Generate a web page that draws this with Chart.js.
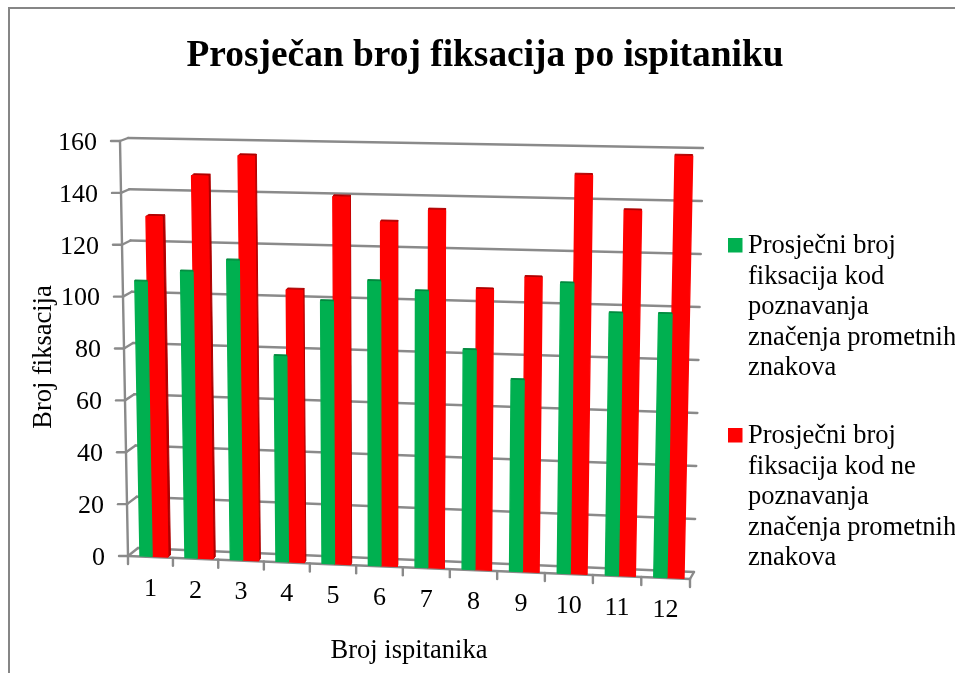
<!DOCTYPE html>
<html>
<head>
<meta charset="utf-8">
<title>Prosječan broj fiksacija po ispitaniku</title>
<style>
html,body{margin:0;padding:0;background:#fff;overflow:hidden;width:955px;height:673px}
#wrap{position:absolute;left:0;top:0;width:970px;height:673px}
</style>
<script src="https://cdn.jsdelivr.net/npm/chart.js@4/dist/chart.umd.js"></script>
</head>
<body>
<div id="wrap"><canvas id="c" width="970" height="673"></canvas></div>
<script>
// chart data
var titleText = 'Prosječan broj fiksacija po ispitaniku';
var xTitle = 'Broj ispitanika';
var yTitle = 'Broj fiksacija';
var categories = ['1','2','3','4','5','6','7','8','9','10','11','12'];
var knownValues = [105.6,109.9,114.6,78.4,99.9,108,104.6,82.8,72,109,98.2,98.4];
var unknownValues = [131,147,155,104,140,130.8,135.7,106,111,150,137,157.8];
var knownLines = ['Prosječni broj','fiksacija kod','poznavanja','značenja prometnih','znakova'];
var unknownLines = ['Prosječni broj','fiksacija kod ne','poznavanja','značenja prometnih','znakova'];

var SERIF = '"Liberation Serif","Times New Roman",serif';
var GRID = '#8a8a8a';

// corners of the 3D box on screen, front plane and back wall
var FRONT = {l0:[128,556], r0:[690,579], lt:[120,141], rt:[699,151]};
var BACK  = {l0:[138,548], r0:[694,572], lt:[128,138], rt:[703,148]};
var BAR_FRONT = 0.08, BAR_SHIFT = 0.0033;
var chart3d;

function mix(a,b,t){ return a+(b-a)*t; }
// x spacing grows a little to the right
function warp(u){ return u-0.044*u*(1-u); }
function onPlane(P,u,v){
  var bx=mix(P.l0[0],P.r0[0],u), by=mix(P.l0[1],P.r0[1],u);
  var tx=mix(P.lt[0],P.rt[0],u), ty=mix(P.lt[1],P.rt[1],u);
  return [mix(bx,tx,v),mix(by,ty,v)];
}
function project(u,v,d){
  var w=warp(u), f=onPlane(FRONT,w,v), b=onPlane(BACK,w,v);
  return [mix(f[0],b[0],d),mix(f[1],b[1],d)];
}
function scaleU(chart,px){ var s=chart.scales.x; return (px-s.left)/(s.right-s.left); }
function scaleV(chart,px){ var s=chart.scales.y; return (s.bottom-px)/(s.bottom-s.top); }

function poly(ctx,pts,color,stroke){
  ctx.beginPath();
  ctx.moveTo(pts[0][0],pts[0][1]);
  for(var i=1;i<pts.length;i++) ctx.lineTo(pts[i][0],pts[i][1]);
  ctx.closePath();
  ctx.fillStyle=color;
  ctx.fill();
  if(stroke){ ctx.strokeStyle=color; ctx.lineWidth=stroke; ctx.lineJoin='round'; ctx.stroke(); }
}
function seg(ctx,a,b){ ctx.beginPath(); ctx.moveTo(a[0],a[1]); ctx.lineTo(b[0],b[1]); ctx.stroke(); }

// bars still come from the library's scales, only the drawing goes through the projection
Chart.BarElement.prototype.draw = function(ctx){
  var p=this.getProps(['x','y','base','width'],false);
  var chart=chart3d;
  var u0=scaleU(chart,p.x-p.width/2)+BAR_SHIFT, u1=scaleU(chart,p.x+p.width/2)+BAR_SHIFT;
  var v1=scaleV(chart,p.y), v0=scaleV(chart,p.base);
  var bl=project(u0,v0,BAR_FRONT), br=project(u1,v0,BAR_FRONT), tr=project(u1,v1,BAR_FRONT), tl=project(u0,v1,BAR_FRONT);
  // green is painted over red, so only the red bars show a side face
  var dx=this.options.borderWidth>0 ? Math.max(0,(0.6-u1)*5) : 0;
  ctx.save();
  poly(ctx,[tl,tr,[tr[0]+dx,tr[1]-2],[tl[0]+dx,tl[1]-2]],this.options.borderColor,1);
  if(dx>0) poly(ctx,[tr,br,[br[0]+dx,br[1]-2],[tr[0]+dx,tr[1]-2]],this.options.borderColor,1);
  poly(ctx,[bl,br,tr,tl],this.options.backgroundColor,1.4);
  ctx.restore();
};

var box3d = {
  id:'box3d',
  beforeInit:function(chart){ chart3d=chart; },
  beforeDatasetsDraw:function(chart){
    var ctx=chart.ctx, y=chart.scales.y;
    ctx.save();
    // outer frame, right and bottom sides fall outside the window
    ctx.strokeStyle='#868686'; ctx.lineWidth=2;
    ctx.strokeRect(9,8,952,700);
    ctx.strokeStyle=GRID; ctx.lineWidth=2.4; ctx.lineCap='round';
    y.ticks.forEach(function(t){
      var v=scaleV(chart,y.getPixelForValue(t.value));
      var f=project(0,v,0), b=project(0,v,1), r=project(1,v,1);
      seg(ctx,[f[0]-9,f[1]],f);
      seg(ctx,f,b);
      seg(ctx,b,r);
    });
    seg(ctx,project(0,0,0),project(0,1,0));
    seg(ctx,project(0,0,0),project(1,0,0));
    seg(ctx,project(1,0,0),project(1,0,1));
    for(var i=0;i<=categories.length;i++){
      var a=project(i/categories.length,0,0);
      seg(ctx,a,[a[0],a[1]+8]);
    }
    ctx.restore();
  },
  afterDraw:function(chart){
    var ctx=chart.ctx, x=chart.scales.x, y=chart.scales.y;
    ctx.save();
    ctx.fillStyle='#000';
    ctx.font='26px '+SERIF;
    ctx.textAlign='right'; ctx.textBaseline='middle';
    y.ticks.forEach(function(t){
      var p=project(0,scaleV(chart,y.getPixelForValue(t.value)),0);
      ctx.fillText(String(t.value),p[0]-23,p[1]+2);
    });
    ctx.textAlign='center';
    categories.forEach(function(c,i){
      var p=project(scaleU(chart,x.getPixelForValue(i)),0,0);
      ctx.fillText(c,p[0],p[1]+32);
    });
    ctx.font='26.5px '+SERIF;
    ctx.fillText(xTitle,409,651);
    ctx.save();
    ctx.translate(44,357); ctx.rotate(-Math.PI/2);
    ctx.fillText(yTitle,0,0);
    ctx.restore();
    // legend, wrapped like the original
    var ds=chart.data.datasets;
    ctx.textAlign='left'; ctx.textBaseline='alphabetic'; ctx.font='26.5px '+SERIF;
    [[knownLines,238,253],[unknownLines,428,443]].forEach(function(e,i){
      ctx.fillStyle=ds[i].backgroundColor;
      ctx.fillRect(728,e[1],14.5,14.5);
      ctx.fillStyle='#000';
      e[0].forEach(function(l,k){ ctx.fillText(l,748,e[2]+k*30.6); });
    });
    ctx.restore();
  }
};

new Chart(document.getElementById('c'),{
  type:'bar',
  data:{labels:categories, datasets:[
    {label:knownLines.join(' '), data:knownValues, backgroundColor:'#00b050', borderColor:'#008a3e', borderWidth:0, barPercentage:0.87, clip:false},
    {label:unknownLines.join(' '), data:unknownValues, backgroundColor:'#ff0000', borderColor:'#b00000', borderWidth:1, barPercentage:1.13, clip:false}
  ]},
  options:{
    responsive:false, animation:false, events:[],
    categoryPercentage:0.62,
    layout:{padding:{top:34,left:0,right:0,bottom:118}},
    plugins:{
      legend:{display:false}, tooltip:{enabled:false},
      title:{display:true, text:titleText, color:'#000', font:{family:SERIF,size:37.4,weight:'bold',lineHeight:1.2}, padding:{top:0,bottom:60}}
    },
    scales:{
      x:{display:false},
      y:{display:false, min:0, max:160, ticks:{stepSize:20}}
    }
  },
  plugins:[box3d]
});
</script>
</body>
</html>
